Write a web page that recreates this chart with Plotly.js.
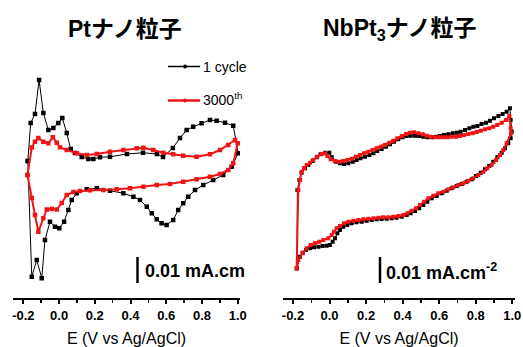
<!DOCTYPE html>
<html>
<head>
<meta charset="utf-8">
<script src="https://cdn.plot.ly/plotly-3.0.1.min.js"></script>
<style>html,body{margin:0;padding:0;background:#fff;}#chart{width:523px;height:347px;}</style>
</head>
<body>
<div id="chart"></div>
<script>
// ---------- data (E in V vs Ag/AgCl, current density in µA cm^-2) ----------
const ptCycle1E = [-0.175,-0.159,-0.135,-0.112,-0.088,-0.060,-0.032,-0.004,0.018,0.043,0.065,0.089,0.127,0.164,0.192,0.229,0.285,0.380,0.470,0.548,0.582,0.637,0.677,0.714,0.751,0.798,0.845,0.882,0.929,0.975,1.003,
  0.966,0.919,0.863,0.807,0.761,0.723,0.695,0.667,0.639,0.602,0.574,0.547,0.519,0.491,0.453,0.416,0.360,0.285,0.211,0.155,0.099,0.071,0.052,0.028,0.001,-0.023,-0.051,-0.079,-0.097,-0.125,-0.153,-0.175];
const ptCycle1J = [5.6,20.8,24.4,38,24.8,18,18.8,20.8,22.8,16.8,10.4,8.8,7.2,6.4,6.4,7.1,7.3,8.4,8.9,8.4,7.2,10.8,14.8,18,19.3,20.7,22,21.7,20.9,19.7,8.7,
  3.3,0,-2,-4,-6,-8.7,-11.3,-14,-18,-20,-19.3,-17.7,-15.3,-12.7,-10,-8.7,-7.3,-6.3,-5.3,-5.7,-7.3,-10,-14,-18.7,-21.3,-20.7,-18.7,-26,-41.3,-34,-40.7,5.6];

const ptCycle3000E = [-0.177,-0.153,-0.135,-0.116,-0.088,-0.060,-0.035,-0.013,0.005,0.043,0.099,0.155,0.211,0.285,0.360,0.435,0.472,0.527,0.583,0.639,0.695,0.770,0.845,0.901,0.947,0.985,1.000,
  0.975,0.947,0.901,0.845,0.770,0.695,0.621,0.547,0.472,0.397,0.323,0.248,0.173,0.117,0.080,0.043,0.015,-0.013,-0.041,-0.069,-0.088,-0.116,-0.135,-0.153,-0.177];
const ptCycle3000J = [0,11,13.3,14.8,13.3,12.7,15.1,12.9,11.1,10,8.7,8,8.4,9.3,10,10.7,10.9,10,8.9,8.3,7.7,7.3,8.3,10,12,14,12.7,
  4.7,2,0.4,-0.7,-1.7,-2.7,-3.6,-4,-4.7,-5.3,-5.7,-6,-6.1,-6.4,-6.8,-8,-11.2,-13.8,-13.6,-13.8,-17.3,-22.7,-16,-9.2,0];

const nbCycle1E = [-0.178,-0.176,-0.165,-0.153,-0.134,-0.116,-0.092,-0.070,-0.049,-0.025,-0.001,0.012,0.035,0.057,0.079,0.103,0.127,0.148,0.170,0.194,0.218,0.240,0.261,0.285,0.309,0.331,0.353,0.376,0.400,0.422,0.444,0.468,0.491,0.513,0.535,0.559,0.582,0.604,0.626,0.650,0.674,0.696,0.717,0.741,0.765,0.787,0.809,0.832,0.856,0.878,0.900,0.924,0.947,0.969,0.987,
  0.991,0.997,0.991,0.978,0.960,0.942,0.918,0.896,0.874,0.851,0.827,0.801,0.778,0.750,0.723,0.696,0.668,0.641,0.614,0.586,0.559,0.535,0.513,0.491,0.468,0.444,0.422,0.395,0.367,0.340,0.313,0.285,0.258,0.230,0.203,0.176,0.148,0.121,0.097,0.075,0.057,0.043,0.030,0.017,0.002,-0.016,-0.038,-0.061,-0.085,-0.107,-0.129,-0.147,-0.162,-0.178];
const nbCycle1J = [-27.3,4,8,10.9,12.7,14,15.6,17.1,18.3,18.9,18.9,17.1,15.3,14.7,14.4,14.7,15.3,16,16.7,17.3,18,18.7,19.6,20.4,21.3,22.3,23.3,24.3,25.1,25.6,25.7,25.7,25.6,25.3,25.1,25.1,25.3,25.6,26,26.3,26.7,26.9,27.3,28,28.7,29.3,29.6,30.4,30.9,31.7,32.7,33.6,34.4,35.3,36.7,
  32,27.3,24.7,22.7,20.7,18.9,17.1,15.3,13.6,12.3,10.9,9.6,8.3,7.3,6.4,5.6,4.7,3.7,2.7,1.6,0.7,-0.7,-2,-3.3,-4.4,-5.3,-6,-6.7,-7.1,-7.3,-7.5,-7.6,-7.7,-8,-8.3,-8.7,-8.9,-9.3,-10,-10.7,-12,-13.3,-15.3,-16.7,-18,-18.3,-18.4,-18.7,-18.9,-19.3,-20,-21.1,-22.7,-27.3];

const nbCycle3000E = [-0.180,-0.171,-0.162,-0.153,-0.140,-0.125,-0.107,-0.089,-0.067,-0.043,-0.025,-0.012,0.006,0.030,0.054,0.075,0.097,0.121,0.145,0.167,0.189,0.212,0.236,0.258,0.280,0.303,0.327,0.349,0.371,0.395,0.418,0.440,0.462,0.486,0.510,0.531,0.553,0.577,0.601,0.623,0.645,0.668,0.692,0.714,0.736,0.759,0.783,0.805,0.827,0.851,0.874,0.896,0.918,0.942,0.966,0.984,
  0.991,0.993,0.969,0.951,0.933,0.911,0.887,0.863,0.842,0.814,0.787,0.759,0.732,0.705,0.677,0.650,0.623,0.595,0.568,0.541,0.517,0.495,0.473,0.449,0.426,0.404,0.376,0.349,0.322,0.294,0.267,0.240,0.212,0.185,0.157,0.130,0.103,0.079,0.057,0.039,0.024,0.012,-0.007,-0.034,-0.056,-0.080,-0.103,-0.125,-0.147,-0.171,-0.180];
const nbCycle3000J = [-27.3,4,8,11.3,12.7,14,14.9,16,17.3,18.4,18.7,17.6,16.3,15.6,15.3,15.6,16,16.5,17.3,18,18.7,19.3,20,20.7,21.3,22,22.9,23.7,24.7,25.6,26.4,26.9,27.1,26.7,26.3,25.7,25.3,25.1,25.1,25.1,25.1,25.3,25.3,25.6,26,26.4,26.7,27.2,27.7,28.3,28.7,29.3,30,30.9,32,33.6,
  28.7,26.7,22.7,20,18,16,14,12.7,11.3,10,8.7,7.7,6.7,6,5.1,4.3,3.3,2.7,1.7,0.7,-0.7,-2,-3.3,-4.3,-5.3,-6,-6.4,-6.7,-6.9,-6.9,-7.1,-7.3,-7.5,-7.7,-8,-8.3,-8.7,-9.3,-10.4,-11.3,-12.7,-14,-15.3,-16,-16.7,-17.3,-18,-19.3,-21.3,-24,-27.3];

const seriesNames = ['1 cycle', '3000<sup>th</sup>'];
const panelTitles = ['<b>Ptナノ粒子</b>', '<b>NbPt<sub>3</sub>ナノ粒子</b>'];
const xTitle = 'E (V vs Ag/AgCl)';
const tickVals = [-0.2, 0.0, 0.2, 0.4, 0.6, 0.8, 1.0];
const tickText = ['-0.2', '0.0', '0.2', '0.4', '0.6', '0.8', '1.0'];
const minorTickVals = [-0.1, 0.1, 0.3, 0.5, 0.7, 0.9];
const scaleLabels = ['<b>0.01 mA.cm</b>', '<b>0.01 mA.cm<sup>-2</sup></b>'];

// ---------- styling ----------
const W = 523, H = 347;
const px = v => v / W;
const py = v => 1 - v / H;
const LAT = 'Liberation Sans, Arial, Noto Sans CJK JP, sans-serif';
const BLACK = '#000000', RED = '#f01414';

function cv(x, y, xa, ya, color, lw, ms) {
  return {x: x, y: y, xaxis: xa, yaxis: ya, type: 'scatter', mode: 'lines+markers',
    line: {color: color, width: lw}, marker: {symbol: 'square', size: ms, color: color, line: {width: 0}},
    showlegend: false, hoverinfo: 'skip'};
}

const traces = [
  cv(ptCycle1E, ptCycle1J, 'x', 'y', BLACK, 1, 4.5),
  cv(ptCycle3000E, ptCycle3000J, 'x', 'y', RED, 2, 4.5),
  cv(nbCycle1E, nbCycle1J, 'x2', 'y2', BLACK, 1, 4),
  cv(nbCycle3000E, nbCycle3000J, 'x2', 'y2', RED, 2, 4)
];

function xaxisDef(domain, range, anchor) {
  return {domain: domain, range: range, anchor: anchor,
    showline: true, linewidth: 2, linecolor: BLACK, mirror: false,
    showgrid: false, zeroline: false,
    ticks: 'outside', ticklen: 4, tickwidth: 2, tickcolor: BLACK,
    tickmode: 'array', tickvals: tickVals, ticktext: tickText,
    tickfont: {family: LAT, size: 13, color: BLACK, weight: 'bold'},
    minor: {tickmode: 'array', tickvals: minorTickVals, ticks: 'outside', ticklen: 2.5, tickwidth: 1.5, tickcolor: BLACK, showgrid: false},
    title: {text: xTitle, font: {family: LAT, size: 16, color: BLACK}, standoff: 12},
    fixedrange: true};
}
function yaxisDef(domain, range, anchor) {
  return {domain: domain, range: range, anchor: anchor, visible: false, showgrid: false, zeroline: false, fixedrange: true};
}

const yDom = [1 - 298 / H, 1];

const layout = {
  width: W, height: H,
  margin: {l: 0, r: 0, t: 0, b: 0},
  paper_bgcolor: '#ffffff', plot_bgcolor: 'rgba(0,0,0,0)',
  showlegend: false,
  xaxis: xaxisDef([px(13), px(240)], [-0.258, 1.013], 'y'),
  yaxis: yaxisDef(yDom, [-49.2, 70], 'x'),
  xaxis2: xaxisDef([px(283), px(515)], [-0.2547, 1.0148], 'y2'),
  yaxis2: yaxisDef(yDom, [-39.2, 80], 'x2'),
  shapes: [
    {type: 'line', xref: 'paper', yref: 'paper', x0: px(137.5), x1: px(137.5), y0: py(257), y1: py(283), line: {color: BLACK, width: 2.5}},
    {type: 'line', xref: 'paper', yref: 'paper', x0: px(380), x1: px(380), y0: py(257), y1: py(283), line: {color: BLACK, width: 2.5}},
    {type: 'line', xref: 'paper', yref: 'paper', x0: px(168), x1: px(200), y0: py(66.5), y1: py(66.5), line: {color: BLACK, width: 1.5}},
    {type: 'circle', xref: 'paper', yref: 'paper', x0: px(183), x1: px(187), y0: py(64.5), y1: py(68.5), fillcolor: BLACK, line: {width: 0}},
    {type: 'line', xref: 'paper', yref: 'paper', x0: px(168), x1: px(200), y0: py(100.5), y1: py(100.5), line: {color: RED, width: 2.5}},
    {type: 'circle', xref: 'paper', yref: 'paper', x0: px(183), x1: px(187), y0: py(98.5), y1: py(102.5), fillcolor: RED, line: {width: 0}}
  ],
  annotations: [
    {xref: 'paper', yref: 'paper', x: px(125), y: py(29), xanchor: 'center', yanchor: 'middle', showarrow: false,
      text: panelTitles[0], font: {family: LAT, size: 23, color: BLACK}},
    {xref: 'paper', yref: 'paper', x: px(399), y: py(29), xanchor: 'center', yanchor: 'middle', showarrow: false,
      text: panelTitles[1], font: {family: LAT, size: 23, color: BLACK}},
    {xref: 'paper', yref: 'paper', x: px(201), y: py(66.5), xanchor: 'left', yanchor: 'middle', showarrow: false,
      text: seriesNames[0], font: {family: LAT, size: 14, color: BLACK}},
    {xref: 'paper', yref: 'paper', x: px(201), y: py(99), xanchor: 'left', yanchor: 'middle', showarrow: false,
      text: seriesNames[1], font: {family: LAT, size: 14, color: BLACK}},
    {xref: 'paper', yref: 'paper', x: px(143), y: py(271), xanchor: 'left', yanchor: 'middle', showarrow: false,
      text: scaleLabels[0], font: {family: LAT, size: 18, color: BLACK}},
    {xref: 'paper', yref: 'paper', x: px(384), y: py(271), xanchor: 'left', yanchor: 'middle', showarrow: false,
      text: scaleLabels[1], font: {family: LAT, size: 18, color: BLACK}}
  ]
};

Plotly.newPlot('chart', traces, layout, {displayModeBar: false, staticPlot: true});
</script>
</body>
</html>
